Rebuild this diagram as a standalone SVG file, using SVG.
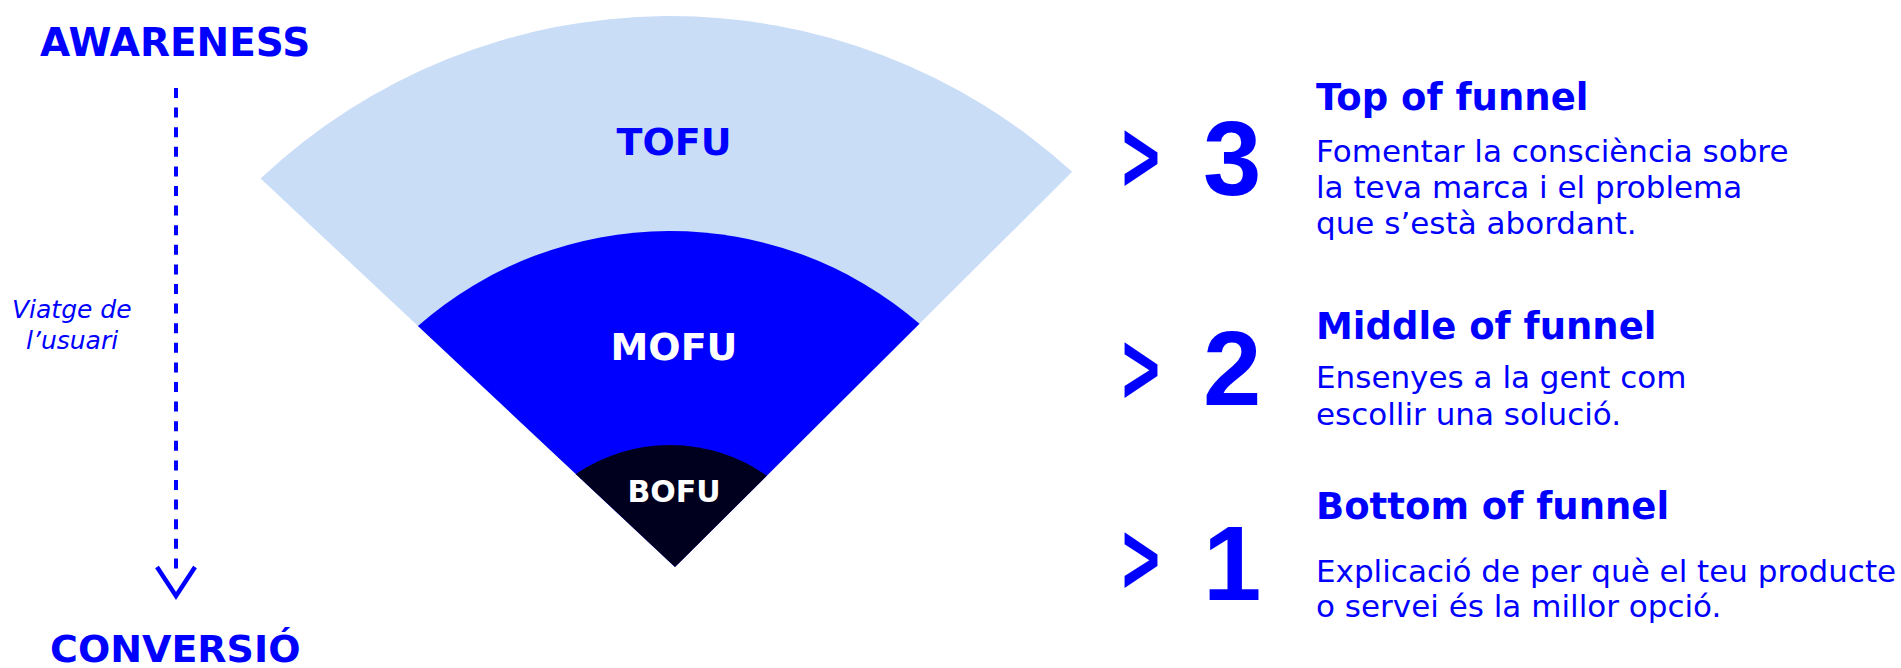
<svg xmlns="http://www.w3.org/2000/svg" width="1901" height="668" viewBox="0 0 1901 668">
<style>
.h{font-family:"DejaVu Sans",sans-serif;font-weight:bold;fill:#0000FF}
.lbl{font-family:"DejaVu Sans",sans-serif;font-weight:bold;text-anchor:middle}
.body{font-family:"DejaVu Sans",sans-serif;font-size:31px;fill:#0000FF}
.num{font-family:"Liberation Sans",sans-serif;font-weight:bold;font-size:105px;fill:#0000FF}
.gt{font-family:"DejaVu Sans",sans-serif;font-weight:bold;font-size:98px;fill:#0000FF}
.it{font-family:"DejaVu Sans",sans-serif;font-style:italic;font-size:25px;fill:#0000FF}
</style>
<rect width="1901" height="668" fill="#FFFFFF"/>
<g id="axis-top"><text class="h" x="40" y="56" font-size="39">AWARENESS</text></g>
<g id="axis-bottom"><text class="h" x="50" y="662" font-size="38">CONVERSIÓ</text></g>
<g id="connectors">
<line x1="176" y1="88" x2="176" y2="574" stroke="#0000FF" stroke-width="4" stroke-dasharray="10 9.6"/>
<polyline points="157,567 176,596 195,567" fill="none" stroke="#0000FF" stroke-width="4.5"/>
</g>
<g id="journey-label">
<text class="it" x="12" y="318">Viatge de</text>
<text class="it" x="26" y="349">l’usuari</text>
</g>
<g id="tofu">
<path d="M675 567 L260.6 178.5 A597 597 0 0 1 1072.1 171.8 Z" fill="#C9DDF7"/>
<text class="lbl" x="674" y="155" font-size="38" fill="#0000FF">TOFU</text>
</g>
<g id="mofu">
<path d="M675 567 L417.9 326 A382 382 0 0 1 919.5 323.7 Z" fill="#0000FF"/>
<text class="lbl" x="674" y="360" font-size="38" fill="#FFFFFF">MOFU</text>
</g>
<g id="bofu">
<path d="M675 567 L575.7 473.9 A168 168 0 0 1 766.8 475.7 Z" fill="#00001E"/>
<text class="lbl" x="674" y="502" font-size="30" fill="#FFFFFF">BOFU</text>
</g>
<g id="stage-3">
<text class="gt" x="1119" y="189" textLength="44" lengthAdjust="spacingAndGlyphs">&gt;</text>
<text class="num" x="1203" y="195">3</text>
<text class="h" x="1316" y="110" font-size="37">Top of funnel</text>
<text class="body" x="1316" y="162">Fomentar la consciència sobre</text>
<text class="body" x="1316" y="198">la teva marca i el problema</text>
<text class="body" x="1316" y="234">que s’està abordant.</text>
</g>
<g id="stage-2">
<text class="gt" x="1119" y="401" textLength="44" lengthAdjust="spacingAndGlyphs">&gt;</text>
<text class="num" x="1203" y="405">2</text>
<text class="h" x="1316" y="339" font-size="37">Middle of funnel</text>
<text class="body" x="1316" y="388">Ensenyes a la gent com</text>
<text class="body" x="1316" y="425">escollir una solució.</text>
</g>
<g id="stage-1">
<text class="gt" x="1119" y="591" textLength="44" lengthAdjust="spacingAndGlyphs">&gt;</text>
<text class="num" x="1203" y="600">1</text>
<text class="h" x="1316" y="519" font-size="37">Bottom of funnel</text>
<text class="body" x="1316" y="582">Explicació de per què el teu producte</text>
<text class="body" x="1316" y="617">o servei és la millor opció.</text>
</g>
</svg>
